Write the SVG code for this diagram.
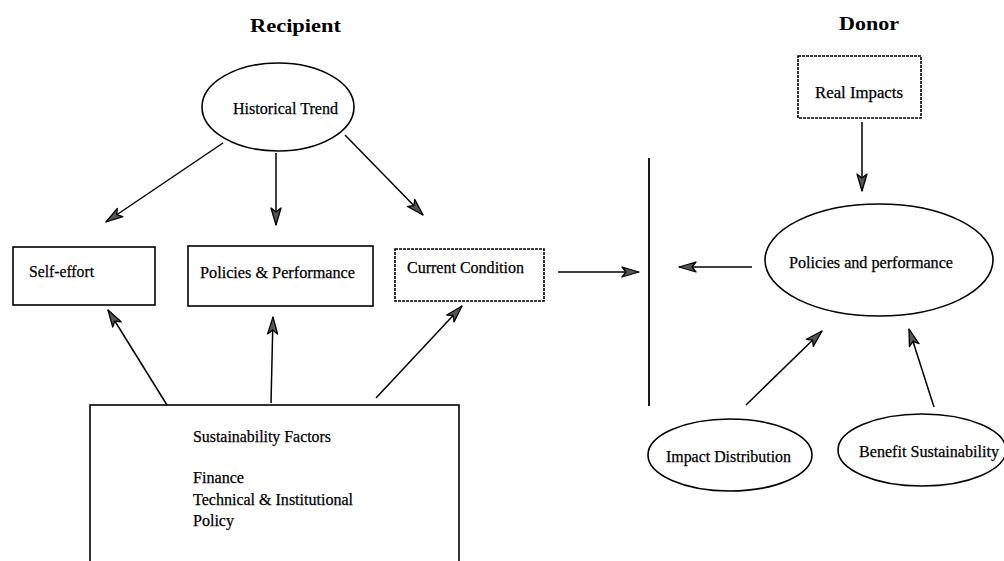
<svg xmlns="http://www.w3.org/2000/svg" width="1004" height="561" viewBox="0 0 1004 561">
<style>
.shape{fill:#fff;stroke:#000;stroke-width:1.6}
.dash{stroke-dasharray:3 1}
.lbl{font-family:"Liberation Serif","Times New Roman",serif;font-size:16px;fill:#000;stroke:#000;stroke-width:0.25}
.title{font-family:"Liberation Serif","Times New Roman",serif;font-size:18px;font-weight:bold;fill:#000}
.conn{stroke:#000;stroke-width:1.5;fill:none;marker-end:url(#ah)}
</style>
<defs>
<marker id="ah" markerUnits="userSpaceOnUse" markerWidth="20" markerHeight="14" viewBox="0 0 20 14" refX="18" refY="7" orient="auto">
<path d="M1,2 L18,7 L1,12 L5,7 Z" fill="#555" stroke="#000" stroke-width="1.3" stroke-linejoin="round"/>
</marker>
</defs>
<rect width="1004" height="561" fill="#fff"/>
<text class="title" x="250" y="32" textLength="91" lengthAdjust="spacingAndGlyphs">Recipient</text>
<text class="title" x="839" y="30" textLength="60" lengthAdjust="spacingAndGlyphs">Donor</text>

<g id="historical-trend">
<ellipse class="shape" cx="278" cy="107" rx="76" ry="44"/>
<text class="lbl" x="233" y="114" textLength="105" lengthAdjust="spacingAndGlyphs">Historical Trend</text>
</g>
<g id="self-effort">
<rect class="shape" x="13" y="247" width="142" height="58"/>
<text class="lbl" x="29" y="277" textLength="65" lengthAdjust="spacingAndGlyphs">Self-effort</text>
</g>
<g id="policies-performance-r">
<rect class="shape" x="188" y="246" width="185" height="60"/>
<text class="lbl" x="200" y="278" textLength="155" lengthAdjust="spacingAndGlyphs">Policies &amp; Performance</text>
</g>
<g id="current-condition">
<rect class="shape dash" x="395" y="249" width="149" height="52"/>
<text class="lbl" x="407" y="273" textLength="117" lengthAdjust="spacingAndGlyphs">Current Condition</text>
</g>
<g id="sustainability-factors">
<rect class="shape" x="90" y="405" width="369" height="170"/>
<text class="lbl" x="193" y="442" textLength="138" lengthAdjust="spacingAndGlyphs">Sustainability Factors</text>
<text class="lbl" x="193" y="483" textLength="51" lengthAdjust="spacingAndGlyphs">Finance</text>
<text class="lbl" x="193" y="505" textLength="160" lengthAdjust="spacingAndGlyphs">Technical &amp; Institutional</text>
<text class="lbl" x="193" y="526" textLength="41" lengthAdjust="spacingAndGlyphs">Policy</text>
</g>
<g id="divider">
<line x1="649" y1="158" x2="649" y2="406" stroke="#000" stroke-width="1.8"/>
</g>
<g id="real-impacts">
<rect class="shape dash" x="798" y="56" width="123" height="62"/>
<text class="lbl" x="815" y="98" textLength="88" lengthAdjust="spacingAndGlyphs">Real Impacts</text>
</g>
<g id="policies-performance-d">
<ellipse class="shape" cx="879" cy="260" rx="114" ry="56"/>
<text class="lbl" x="789" y="268" textLength="164" lengthAdjust="spacingAndGlyphs">Policies and performance</text>
</g>
<g id="impact-distribution">
<ellipse class="shape" cx="730" cy="455" rx="82" ry="36"/>
<text class="lbl" x="666" y="462" textLength="125" lengthAdjust="spacingAndGlyphs">Impact Distribution</text>
</g>
<g id="benefit-sustainability">
<ellipse class="shape" cx="922" cy="450" rx="84" ry="36"/>
<text class="lbl" x="859" y="457" textLength="140" lengthAdjust="spacingAndGlyphs">Benefit Sustainability</text>
</g>

<g id="connectors">
<line class="conn" x1="223" y1="143" x2="106" y2="222"/>
<line class="conn" x1="276" y1="153" x2="276" y2="225"/>
<line class="conn" x1="345" y1="135" x2="423" y2="215"/>
<line class="conn" x1="167" y1="405" x2="108" y2="310"/>
<line class="conn" x1="271" y1="403" x2="273" y2="317"/>
<line class="conn" x1="376" y1="398" x2="462" y2="306"/>
<line class="conn" x1="558" y1="272" x2="639" y2="272"/>
<line class="conn" x1="752" y1="267" x2="679" y2="267"/>
<line class="conn" x1="862" y1="122" x2="862" y2="191"/>
<line class="conn" x1="746" y1="405" x2="822" y2="331"/>
<line class="conn" x1="934" y1="407" x2="909" y2="329"/>
</g>
</svg>
